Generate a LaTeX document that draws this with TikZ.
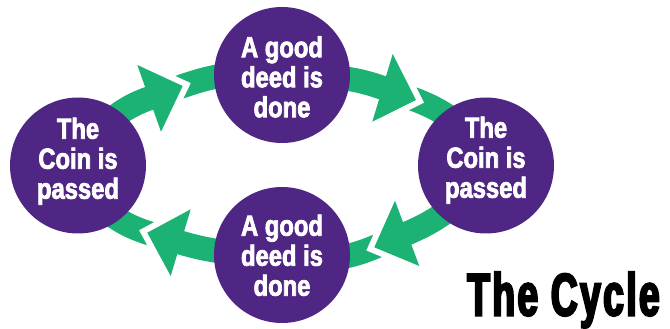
\documentclass[tikz,border=0pt]{standalone}
\usepackage{fontspec}
\usetikzlibrary{calc}
\newfontfamily\circfont[FakeStretch=0.82,FakeBold=2.5]{Liberation Sans}
\newfontfamily\titlefont[FakeStretch=0.62,FakeBold=3.5,LetterSpace=4]{Liberation Sans}
\definecolor{purp}{HTML}{4F2683}
\definecolor{grn}{HTML}{1BB273}
\pgfdeclarelayer{bg}
\pgfsetlayers{bg,main}
\tikzset{
  bubble/.style={circle, fill=purp, minimum size=136pt, inner sep=0pt},
  bubbletext/.style={text=white, font=\circfont\bfseries\fontsize{29}{30}\selectfont, align=center, inner sep=0pt, anchor=north},
  shaft/.style={draw=grn, line width=24pt, line cap=butt},
  arrowhead/.style={fill=grn, preaction={draw=white, line width=12pt, line join=miter}},
  titletext/.style={text=black, font=\titlefont\bfseries\fontsize{60}{62}\selectfont, inner sep=0pt, anchor=base west}
}
\begin{document}
\begin{tikzpicture}[x=1pt,y=1pt]
\useasboundingbox (0,0) rectangle (670,329);
% circles
\node[bubble] (L) at (78,163.5) {};
\node[bubble] (T) at (282,254) {};
\node[bubble] (R) at (486,163.5) {};
\node[bubble] (B) at (282,74) {};
% texts
\node[bubbletext] (Lt) at ($(L.center)+(0,48)$) {The\\Coin is\\passed};
\node[bubbletext] (Tt) at ($(T.center)+(0,39)$) {A good\\deed is\\done};
\node[bubbletext] (Rt) at ($(R.center)+(0,49)$) {The\\Coin is\\passed};
\node[bubbletext] (Bt) at ($(B.center)+(0,40.5)$) {A good\\deed is\\done};
\node[titletext] (title) at (467,13.5) {The Cycle};
\begin{pgfonlayer}{bg}
% upper left: L -> T
\coordinate (tUL) at (182.7,243);
\coordinate (aUL) at (137.3,264);
\coordinate (bUL) at (161,197.3);
\coordinate (mUL) at ($(aUL)!0.5!(bUL)$);
\draw[shaft] ($(tUL)!4pt!(mUL)$) to[out=19.6,in=174] (T.center);
\path[arrowhead] (aUL) -- (tUL) -- (bUL) -- cycle;
\draw[shaft] (L.center) to[out=62,in=199.6] (mUL) -- ($(mUL)!8pt!(tUL)$);
% upper right: T -> R
\coordinate (tUR) at (416,229);
\coordinate (aUR) at (392.7,275);
\coordinate (bUR) at (372.3,207.3);
\coordinate (mUR) at ($(aUR)!0.5!(bUR)$);
\draw[shaft] ($(tUR)!4pt!(mUR)$) to[out=-20,in=113] (R.center);
\path[arrowhead] (aUR) -- (tUR) -- (bUR) -- cycle;
\draw[shaft] (T.center) to[out=-3,in=160.1] (mUR) -- ($(mUR)!8pt!(tUR)$);
% lower right: R -> B
\coordinate (tLR) at (374.3,81.7);
\coordinate (aLR) at (395,128.3);
\coordinate (bLR) at (419.3,63);
\coordinate (mLR) at ($(aLR)!0.5!(bLR)$);
\draw[shaft] ($(tLR)!4pt!(mLR)$) to[out=203,in=348] (B.center);
\path[arrowhead] (aLR) -- (tLR) -- (bLR) -- cycle;
\draw[shaft] (R.center) to[out=238,in=23] (mLR) -- ($(mLR)!8pt!(tLR)$);
% lower left: B -> L
\coordinate (tLL) at (147.3,96.3);
\coordinate (aLL) at (190.7,119.7);
\coordinate (bLL) at (170.7,53);
\coordinate (mLL) at ($(aLL)!0.5!(bLL)$);
\draw[shaft] ($(tLL)!4pt!(mLL)$) to[out=163.4,in=289] (L.center);
\path[arrowhead] (aLL) -- (tLL) -- (bLL) -- cycle;
\draw[shaft] (B.center) to[out=178,in=-16.6] (mLL) -- ($(mLL)!8pt!(tLL)$);
\end{pgfonlayer}
\end{tikzpicture}
\end{document}
